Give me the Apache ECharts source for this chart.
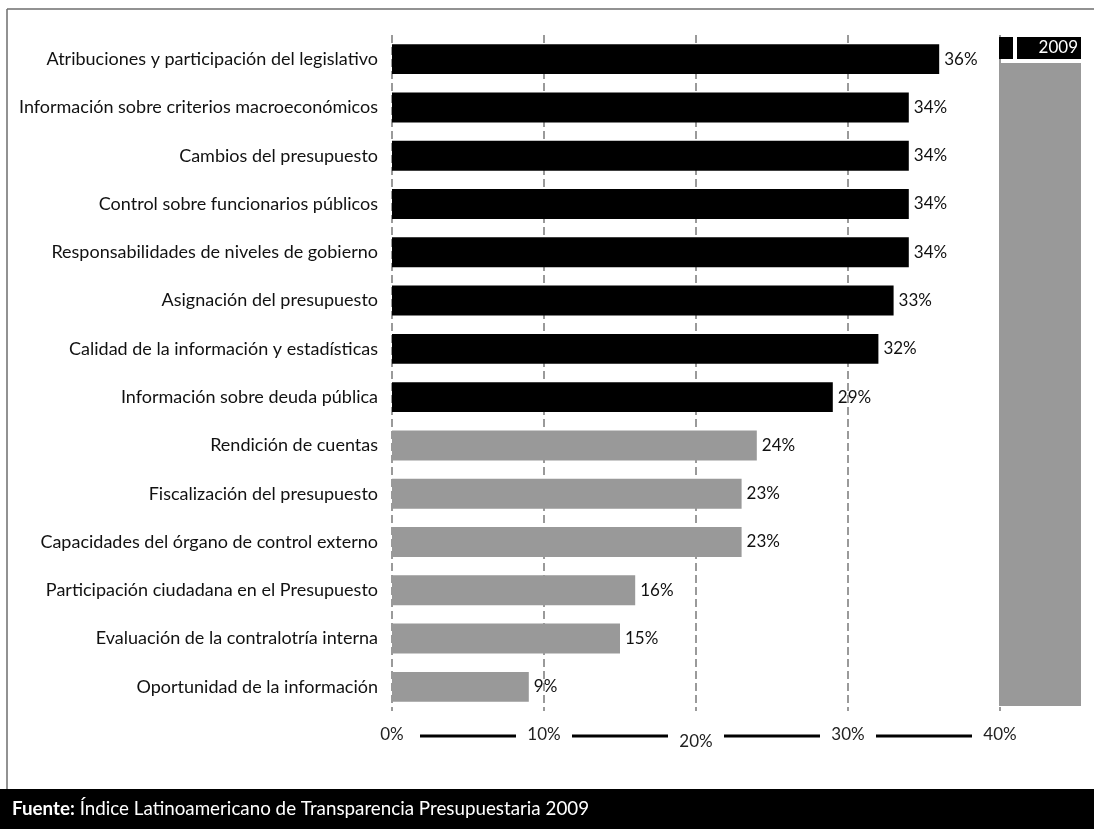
<!DOCTYPE html>
<html>
<head>
<meta charset="utf-8">
<script src="https://cdn.jsdelivr.net/npm/echarts@6/dist/echarts.min.js"></script>
<style>
  html, body { margin: 0; padding: 0; background: #fff; }
  #chart { width: 1094px; height: 829px; }
</style>
</head>
<body>
<div id="chart"></div>
<script>
// Índice de transparencia presupuestaria por variable, 2009
const categories = [
  'Atribuciones y participación del legislativo',
  'Información sobre criterios macroeconómicos',
  'Cambios del presupuesto',
  'Control sobre funcionarios públicos',
  'Responsabilidades de niveles de gobierno',
  'Asignación del presupuesto',
  'Calidad de la información y estadísticas',
  'Información sobre deuda pública',
  'Rendición de cuentas',
  'Fiscalización del presupuesto',
  'Capacidades del órgano de control externo',
  'Participación ciudadana en el Presupuesto',
  'Evaluación de la contralotría interna',
  'Oportunidad de la información'
];
const values = [36, 34, 34, 34, 34, 33, 32, 29, 24, 23, 23, 16, 15, 9];
// true = highlighted (black) variable, false = grey
const highlighted = [true, true, true, true, true, true, true, true, false, false, false, false, false, false];
const axisTicks = [0, 10, 20, 30, 40];
const yearLabel = '2009';
const sourceBold = 'Fuente:';
const sourceText = ' Índice Latinoamericano de Transparencia Presupuestaria 2009';

const FONT = 'Lato, "Open Sans", sans-serif';
const chart = echarts.init(document.getElementById('chart'), null, { renderer: 'canvas' });

const option = {
  backgroundColor: '#fff',
  animation: false,
  grid: { left: 392, right: 94, top: 35, bottom: 118, containLabel: false },
  xAxis: {
    type: 'value',
    min: axisTicks[0],
    max: axisTicks[axisTicks.length - 1],
    interval: 10,
    axisLine: { show: false },
    axisTick: { show: false },
    splitLine: {
      show: true,
      lineStyle: { color: '#9a9a9a', width: 2, type: [8, 4] }
    },
    axisLabel: {
      margin: 15,
      color: '#222',
      fontFamily: FONT,
      fontSize: 17,
      formatter: v => v === 20 ? '{low|' + v + '%}' : '{n|' + v + '%}',
      rich: {
        n: { fontFamily: FONT, fontSize: 17, color: '#222' },
        low: { fontFamily: FONT, fontSize: 17, color: '#222', padding: [7, 0, 0, 0] }
      }
    }
  },
  yAxis: {
    type: 'category',
    data: categories,
    inverse: true,
    axisLine: { show: false },
    axisTick: { show: false },
    axisLabel: { margin: 14, color: '#111', fontFamily: FONT, fontSize: 18 }
  },
  series: [{
    type: 'bar',
    barCategoryGap: '38%',
    data: values.map((v, i) => ({
      value: v,
      itemStyle: { color: highlighted[i] ? '#000' : '#999' }
    })),
    label: {
      show: true,
      position: 'right',
      distance: 5,
      color: '#111',
      fontFamily: FONT,
      fontSize: 17,
      formatter: p => p.value + '%'
    }
  }]
};
chart.setOption(option);

// Decorations: frame, year tag, side panel, axis dashes and source band
const W = 1094, H = 829;
const gridBottomY = H - 118;
const graphics = [];

// frame
graphics.push({ type: 'line', shape: { x1: 7, y1: 9, x2: W, y2: 9 }, style: { stroke: '#6e6e6e', lineWidth: 1.5 }, silent: true });
graphics.push({ type: 'line', shape: { x1: 7, y1: 9, x2: 7, y2: 789 }, style: { stroke: '#6e6e6e', lineWidth: 1.5 }, silent: true });

// year tag and side panel
graphics.push({ type: 'rect', shape: { x: 999, y: 37, width: 14, height: 22 }, style: { fill: '#000' }, silent: true });
graphics.push({ type: 'rect', shape: { x: 1017, y: 37, width: 64, height: 22 }, style: { fill: '#000' }, silent: true });
graphics.push({ type: 'text', style: { text: yearLabel, x: 1078, y: 48, fill: '#fff', font: '17px ' + FONT, align: 'right', verticalAlign: 'middle' }, silent: true });
graphics.push({ type: 'rect', shape: { x: 999, y: 63, width: 82, height: 643 }, style: { fill: '#999' }, silent: true });

// dashes joining the axis labels
for (let i = 0; i < axisTicks.length - 1; i++) {
  const a = chart.convertToPixel({ xAxisIndex: 0 }, axisTicks[i]);
  const b = chart.convertToPixel({ xAxisIndex: 0 }, axisTicks[i + 1]);
  const mid = (a + b) / 2;
  graphics.push({
    type: 'line',
    shape: { x1: mid - 48, y1: gridBottomY + 25, x2: mid + 48, y2: gridBottomY + 25 },
    style: { stroke: '#000', lineWidth: 3 },
    silent: true
  });
}

// source band
graphics.push({ type: 'rect', shape: { x: 0, y: 789, width: W, height: 40 }, style: { fill: '#000' }, silent: true });
graphics.push({
  type: 'text',
  style: {
    text: '{b|' + sourceBold + '}{r|' + sourceText + '}',
    x: 12, y: 809, verticalAlign: 'middle',
    rich: {
      b: { fill: '#fff', font: 'bold 18.8px ' + FONT },
      r: { fill: '#fff', font: '18.8px ' + FONT }
    }
  },
  silent: true
});

chart.setOption({ graphic: graphics });
</script>
</body>
</html>
